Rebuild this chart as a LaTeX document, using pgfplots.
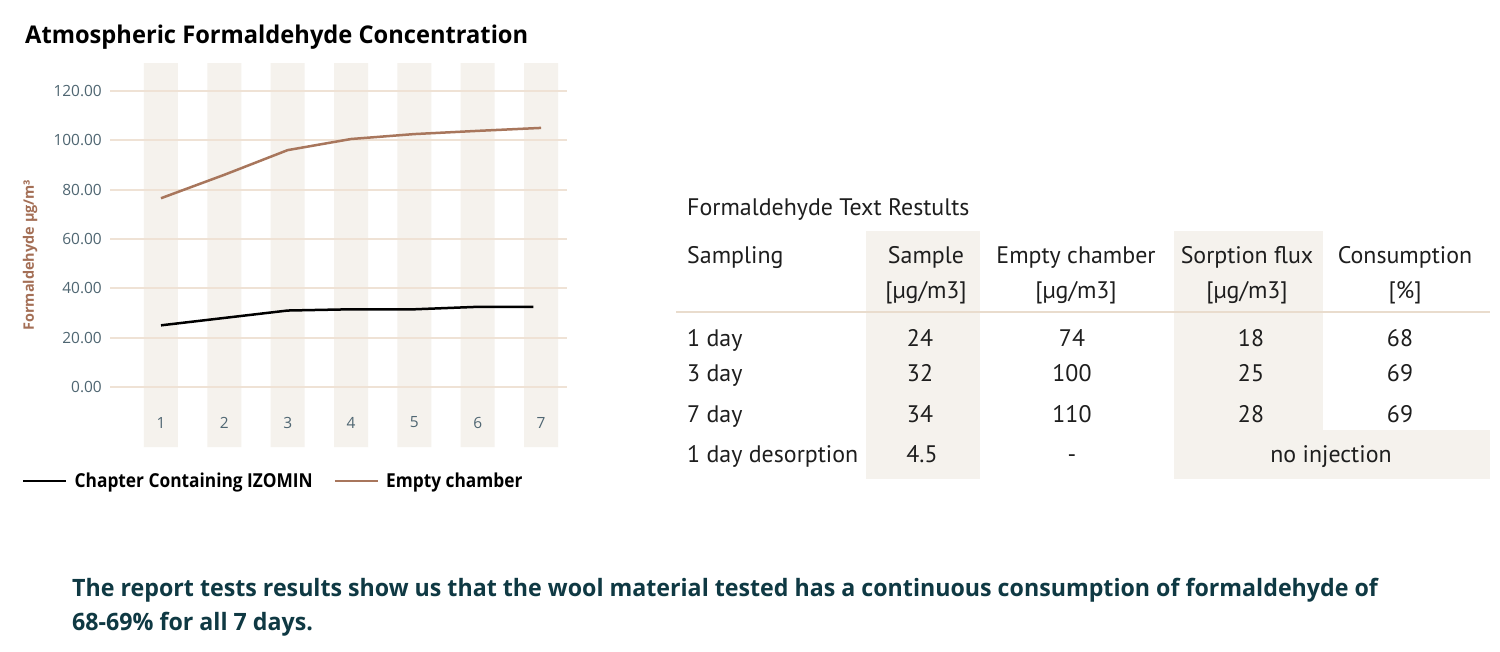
\documentclass[border=0pt]{standalone}
\usepackage{pgfplots}
\pgfplotsset{compat=1.18}
\usepackage{fontspec}
\setmainfont{Open Sans}
\newfontfamily\ptsans{PT Sans}
\newfontfamily\opensans{Open Sans}
\newfontfamily\bodyfont{Open Sans}[FakeStretch=0.97]
\newfontfamily\condfont{Open Sans}[FakeStretch=0.9]
\definecolor{stripe}{HTML}{F5F2ED}
\definecolor{gridc}{HTML}{EFE2D5}
\definecolor{brownl}{HTML}{A8765C}
\definecolor{ylab}{HTML}{A46F56}
\definecolor{tickc}{HTML}{4F6672}
\definecolor{tealtxt}{HTML}{0F3943}
\definecolor{sepc}{HTML}{E9DCCD}
\definecolor{tabtxt}{HTML}{1E1E1E}
\pgfplotsset{base/.style={
  at={(110bp,-447bp)}, anchor=south west,
  width=457bp, height=384bp, scale only axis,
  xmin=0.195, xmax=7.41, ymin=-24.3, ymax=131.3}}
\begin{document}
\begin{tikzpicture}
\path[use as bounding box, fill=white] (0,0) rectangle (1500bp,-652bp);
% title
\node[anchor=base west, inner sep=0pt, font=\bodyfont\bfseries\fontsize{24.5}{28}\selectfont] at (25bp,-43bp) {Atmospheric Formaldehyde Concentration};
\begin{axis}[base, hide axis]
\addplot[ybar, bar width=0.537, bar shift=0pt, fill=stripe, draw=none]
  coordinates {(1,131.3) (2,131.3) (3,131.3) (4,131.3) (5,131.3) (6,131.3) (7,131.3)};
\addplot[ybar, bar width=0.537, bar shift=0pt, fill=stripe, draw=none]
  coordinates {(1,-24.3) (2,-24.3) (3,-24.3) (4,-24.3) (5,-24.3) (6,-24.3) (7,-24.3)};
\end{axis}
\begin{axis}[base,
  axis line style={draw=none},
  major tick length=0pt,
  ytick={0,20,40,60,80,100,120},
  yticklabel={\pgfmathprintnumber[fixed,fixed zerofill,precision=2,assume math mode=true]{\tick}},
  xtick={1,2,3,4,5,6,7},
  xticklabels={1,2,3,4,5,6,7},
  ymajorgrids,
  grid style={color=gridc, line width=2bp},
  tick label style={font=\opensans\fontsize{15.5}{18}\selectfont, color=tickc},
  yticklabel style={anchor=east, inner sep=0pt, xshift=-8bp},
  xticklabel style={anchor=center, inner sep=0pt, yshift=24.5bp},
  ylabel={Formaldehyde µg/m³},
  ylabel style={at={(axis description cs:-0.175,0.5)}, anchor=center, font=\opensans\bfseries\fontsize{14.5}{17}\selectfont, color=ylab},
  legend columns=2,
  legend style={at={(axis description cs:-0.1926,-0.0885)}, anchor=west, draw=none, fill=none, inner sep=0pt,
    font=\condfont\bfseries\fontsize{19.3}{22}\selectfont, column sep=5bp,
    /tikz/every even column/.append style={column sep=19bp}},
  legend image code/.code={\draw[#1] (0bp,0bp) -- (43bp,0bp);},
]
\addplot[black, line width=2.5bp, mark=none]
  coordinates {(1,25) (2,28) (3,31) (4,31.5) (5,31.5) (6,32.5) (6.88,32.5)};
\addlegendentry{Chapter Containing IZOMIN}
\addplot[brownl, line width=2.5bp, mark=none]
  coordinates {(1,76.5) (2,86) (3,96) (4,100.5) (5,102.5) (6,103.8) (7,105)};
\addlegendentry{Empty chamber}
\end{axis}
% table
\fill[stripe] (866bp,-231bp) rectangle (980bp,-479bp);
\fill[stripe] (1174bp,-231bp) rectangle (1323bp,-479bp);
\fill[stripe] (1174bp,-430bp) rectangle (1490bp,-479bp);
\draw[sepc, line width=2bp] (676bp,-312bp) -- (1490bp,-312bp);
\begin{scope}[every node/.style={inner sep=0pt, font=\ptsans\fontsize{24}{28}\selectfont, text=tabtxt}]
\node[anchor=base west] at (687bp,-215bp) {Formaldehyde Text Restults};
\node[anchor=base west] at (687bp,-263bp) {Sampling};
\node[anchor=base] at (926bp,-263bp) {Sample};
\node[anchor=base] at (1076bp,-263bp) {Empty chamber};
\node[anchor=base] at (1247bp,-263bp) {Sorption flux};
\node[anchor=base] at (1405bp,-263bp) {Consumption};
\node[anchor=base] at (926bp,-298bp) {[µg/m3]};
\node[anchor=base] at (1076bp,-298bp) {[µg/m3]};
\node[anchor=base] at (1247bp,-298bp) {[µg/m3]};
\node[anchor=base] at (1405bp,-298bp) {[\%]};
\node[anchor=base west] at (687bp,-346bp) {1 day};
\node[anchor=base west] at (687bp,-381bp) {3 day};
\node[anchor=base west] at (687bp,-422bp) {7 day};
\node[anchor=base west] at (687bp,-462bp) {1 day desorption};
\node[anchor=base] at (920bp,-346bp) {24};
\node[anchor=base] at (920bp,-381bp) {32};
\node[anchor=base] at (920bp,-422bp) {34};
\node[anchor=base] at (922bp,-462bp) {4.5};
\node[anchor=base] at (1072bp,-346bp) {74};
\node[anchor=base] at (1072bp,-381bp) {100};
\node[anchor=base] at (1072bp,-422bp) {110};
\node[anchor=base] at (1072bp,-462bp) {-};
\node[anchor=base] at (1251bp,-346bp) {18};
\node[anchor=base] at (1251bp,-381bp) {25};
\node[anchor=base] at (1251bp,-422bp) {28};
\node[anchor=base] at (1400bp,-346bp) {68};
\node[anchor=base] at (1400bp,-381bp) {69};
\node[anchor=base] at (1400bp,-422bp) {69};
\node[anchor=base] at (1331bp,-462bp) {no injection};
\end{scope}
% bottom text
\node[anchor=base west, inner sep=0pt, text=tealtxt, font=\bodyfont\bfseries\fontsize{24}{28}\selectfont] at (72bp,-596bp) {The report tests results show us that the wool material tested has a continuous consumption of formaldehyde of};
\node[anchor=base west, inner sep=0pt, text=tealtxt, font=\bodyfont\bfseries\fontsize{24}{28}\selectfont] at (72bp,-630bp) {68-69\% for all 7 days.};
\end{tikzpicture}
\end{document}
